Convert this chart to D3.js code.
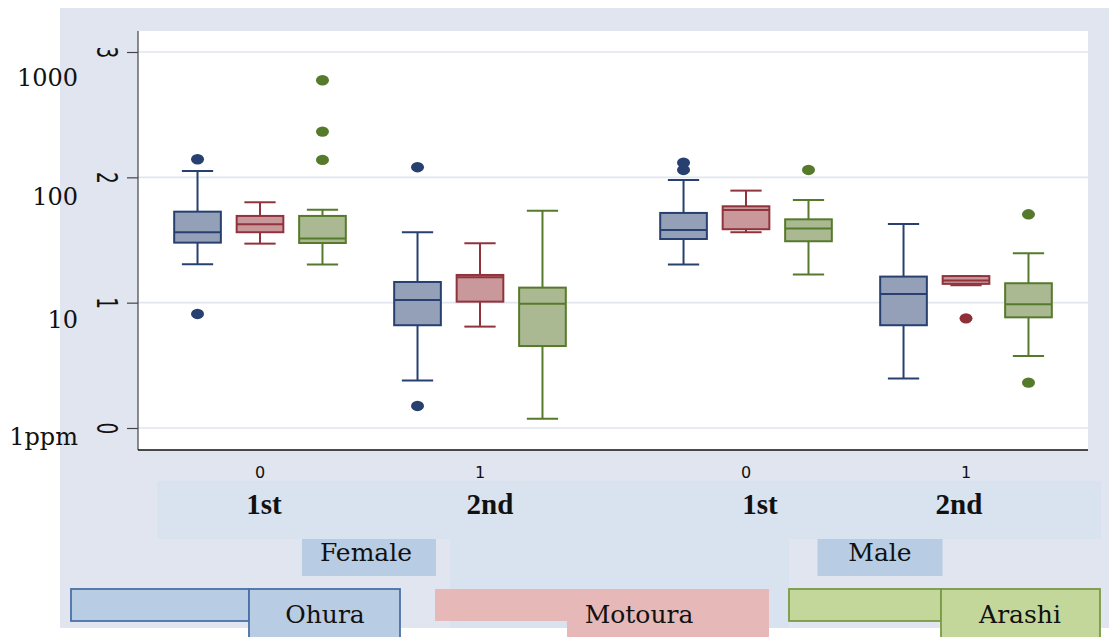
<!DOCTYPE html>
<html>
<head>
<meta charset="utf-8">
<script src="https://cdn.jsdelivr.net/npm/d3@7/dist/d3.min.js"></script>
<style>
  html, body { margin: 0; padding: 0; background: #ffffff; overflow: hidden; }
  svg { display: block; }
</style>
</head>
<body>
<script>
// Grouping levels
const sexes = ["Female", "Male"];
const waves = ["1st", "2nd"];
const waveCodes = ["0", "1"];
const sites = ["Ohura", "Motoura", "Arashi"];

// Log10 axis ticks and their ppm equivalents
const yTickValues = [0, 1, 2, 3];
const ppmLabels = ["1ppm", "10", "100", "1000"];

// Box summaries in log10(ppm): [lower whisker, Q1, median, Q3, upper whisker]
// cell order: Female 1st, Female 2nd, Male 1st, Male 2nd
const ohuraBoxes = [
  [1.306, 1.479, 1.562, 1.726, 2.051],
  [0.378, 0.820, 1.022, 1.165, 1.562],
  [1.304, 1.508, 1.580, 1.716, 1.979],
  [0.394, 0.820, 1.069, 1.208, 1.628]
];
const motouraBoxes = [
  [1.471, 1.562, 1.626, 1.692, 1.801],
  [0.809, 1.008, 1.203, 1.221, 1.474],
  [1.562, 1.586, 1.740, 1.769, 1.894],
  [1.139, 1.150, 1.176, 1.212, 1.212]
];
const arashiBoxes = [
  [1.304, 1.476, 1.511, 1.692, 1.742],
  [0.074, 0.654, 0.992, 1.120, 1.734],
  [1.224, 1.490, 1.591, 1.665, 1.820],
  [0.575, 0.883, 0.987, 1.155, 1.394]
];

// Outside values, same cell order
const ohuraOutliers = [[2.144, 0.910], [2.081, 0.176], [2.117, 2.059], []];
const motouraOutliers = [[], [], [], [0.875]];
const arashiOutliers = [[2.139, 2.365, 2.775], [], [2.059], [1.705, 0.362]];

// ---- styling ----
const siteStyle = {
  Ohura:   { fill: "#93a0b8", stroke: "#27406f", dot: "#27406f", key: "#b8cce4", keyStroke: "#4a70a6" },
  Motoura: { fill: "#c8989b", stroke: "#91333d", dot: "#8f2f3a", key: "#e6b8b7", keyStroke: "none" },
  Arashi:  { fill: "#abb993", stroke: "#567a2b", dot: "#567a2b", key: "#c4d79b", keyStroke: "#7a9a44" }
};
const serif = "'DejaVu Serif', serif";
const sans = "'DejaVu Sans', sans-serif";

const W = 1109, H = 637;
const plot = { left: 138, right: 1088, top: 31, bottom: 450 };

const svg = d3.select("body").append("svg").attr("width", W).attr("height", H);

// page backgrounds
svg.append("rect").attr("x", 60).attr("y", 8).attr("width", W - 60).attr("height", 620).attr("fill", "#e1e5ef");
svg.append("rect").attr("x", plot.left).attr("y", plot.top)
  .attr("width", plot.right - plot.left).attr("height", plot.bottom - plot.top).attr("fill", "#ffffff");

// scales
const y = d3.scaleLinear().domain([0, 3]).range([428, 52]);
const xSex = d3.scaleBand().domain(sexes).range([plot.left, plot.right])
  .paddingInner(0.0947).paddingOuter(0.0247);
const xWave = d3.scaleBand().domain(waves).range([0, xSex.bandwidth()]);
const xSite = d3.scaleBand().domain(sites).range([0, xWave.bandwidth()])
  .paddingInner(0.253).paddingOuter(0.387);

// gridlines
svg.append("g").selectAll("line").data(yTickValues).join("line")
  .attr("x1", plot.left).attr("x2", plot.right)
  .attr("y1", d => y(d)).attr("y2", d => y(d))
  .attr("stroke", "#e0e5ef").attr("stroke-width", 1.6);

// assemble box records
const boxSets = { Ohura: ohuraBoxes, Motoura: motouraBoxes, Arashi: arashiBoxes };
const outSets = { Ohura: ohuraOutliers, Motoura: motouraOutliers, Arashi: arashiOutliers };
const records = [];
sites.forEach(site => {
  boxSets[site].forEach((b, i) => {
    const sex = sexes[Math.floor(i / 2)], wave = waves[i % 2];
    records.push({ site, sex, wave, lw: b[0], q1: b[1], med: b[2], q3: b[3], uw: b[4], out: outSets[site][i] });
  });
});
const cx = d => xSex(d.sex) + xWave(d.wave) + xSite(d.site) + xSite.bandwidth() / 2;
const bw = xSite.bandwidth();
const capW = bw * 0.67;

const boxes = svg.append("g").selectAll("g").data(records).join("g");
boxes.each(function (d) {
  const g = d3.select(this), st = siteStyle[d.site], x = cx(d);
  // whiskers
  g.append("line").attr("x1", x).attr("x2", x).attr("y1", y(d.q3)).attr("y2", y(d.uw))
    .attr("stroke", st.stroke).attr("stroke-width", 2);
  g.append("line").attr("x1", x).attr("x2", x).attr("y1", y(d.q1)).attr("y2", y(d.lw))
    .attr("stroke", st.stroke).attr("stroke-width", 2);
  [d.uw, d.lw].forEach(v => g.append("line")
    .attr("x1", x - capW / 2).attr("x2", x + capW / 2).attr("y1", y(v)).attr("y2", y(v))
    .attr("stroke", st.stroke).attr("stroke-width", 2));
  // box
  g.append("rect").attr("x", x - bw / 2).attr("width", bw)
    .attr("y", y(d.q3)).attr("height", y(d.q1) - y(d.q3))
    .attr("fill", st.fill).attr("stroke", st.stroke).attr("stroke-width", 2);
  g.append("line").attr("x1", x - bw / 2).attr("x2", x + bw / 2).attr("y1", y(d.med)).attr("y2", y(d.med))
    .attr("stroke", st.stroke).attr("stroke-width", 2);
  // outside values
  g.selectAll("ellipse").data(d.out).join("ellipse")
    .attr("cx", x).attr("cy", v => y(v)).attr("rx", 6.5).attr("ry", 5.2).attr("fill", st.dot);
});

// y axis
const yAxis = svg.append("g").attr("transform", `translate(${plot.left},0)`)
  .call(d3.axisLeft(y).tickValues(yTickValues).tickSize(11).tickPadding(4).tickFormat(d3.format("d")));
yAxis.select(".domain").remove();
yAxis.selectAll(".tick line").attr("stroke", "#444").attr("stroke-width", 1.2);
yAxis.selectAll(".tick text").remove();
yAxis.selectAll(".tick").append("text")
  .attr("transform", "translate(-31,0) rotate(90) scale(1,1.55)")
  .attr("text-anchor", "middle").attr("dy", "0.36em")
  .attr("fill", "#111").style("font-family", sans).style("font-size", "18.5px")
  .text(d => d3.format("d")(d));
svg.append("line").attr("x1", plot.left).attr("x2", plot.left).attr("y1", plot.top).attr("y2", plot.bottom)
  .attr("stroke", "#444").attr("stroke-width", 1.2);

// ppm equivalents beside the log ticks
const ppmShift = [17, 25, 28, 34];
svg.append("g").selectAll("text").data(yTickValues).join("text")
  .attr("x", 78).attr("y", (d, i) => y(d) + ppmShift[i])
  .attr("text-anchor", "end").attr("fill", "#111")
  .style("font-family", serif).style("font-size", "24px")
  .text((d, i) => ppmLabels[i]);

// x axis line
svg.append("line").attr("x1", plot.left).attr("x2", plot.right).attr("y1", plot.bottom).attr("y2", plot.bottom)
  .attr("stroke", "#111").attr("stroke-width", 1.5);

// wave codes under each group
const cells = [];
sexes.forEach(s => waves.forEach((w, j) => cells.push({ sex: s, wave: w, code: waveCodes[j] })));
const groupCx = c => xSex(c.sex) + xWave(c.wave) + xWave.bandwidth() / 2;
svg.append("g").selectAll("text").data(cells).join("text")
  .attr("x", c => groupCx(c)).attr("y", 478).attr("text-anchor", "middle").attr("fill", "#111")
  .style("font-family", sans).style("font-size", "16px").text(c => c.code);

// sex labels (partly tucked under the wave band)
sexes.forEach(s => {
  const c = xSex(s) + xSex.bandwidth() / 2 + (s === "Female" ? -1 : 24);
  const w = s === "Female" ? 134 : 125;
  svg.append("rect").attr("x", c - w / 2).attr("y", 539).attr("width", w).attr("height", 37).attr("fill", "#b8cce4");
  svg.append("text").attr("x", c - (s === "Female" ? 3 : 0)).attr("y", 561).attr("text-anchor", "middle").attr("fill", "#111")
    .style("font-family", serif).style("font-size", "25px").text(s);
});

// wave band
svg.append("rect").attr("x", 157).attr("y", 481).attr("width", 944).attr("height", 58).attr("fill", "#d9e2ef");
svg.append("rect").attr("x", 450).attr("y", 539).attr("width", 339).attr("height", 89).attr("fill", "#d9e2ef");
const waveShift = [4, 10, 14, -7];
svg.append("g").selectAll("text").data(cells).join("text")
  .attr("x", (c, i) => groupCx(c) + waveShift[i]).attr("y", 514).attr("text-anchor", "middle").attr("fill", "#111")
  .style("font-family", "'Liberation Serif', serif").style("font-weight", "bold").style("font-size", "29px")
  .text(c => c.wave);

// legend
const legendSpans = [
  { key: [71, 249], label: [249, 400], textX: 325 },
  { key: [435, 567], label: [567, 769], textX: 639 },
  { key: [789, 941], label: [941, 1100], textX: 1020 }
];
sites.forEach((s, i) => {
  const st = siteStyle[s], sp = legendSpans[i];
  const sw = st.keyStroke === "none" ? 0 : 1.8;
  svg.append("rect").attr("x", sp.key[0]).attr("y", 589).attr("width", sp.key[1] - sp.key[0]).attr("height", 32)
    .attr("fill", st.key).attr("stroke", st.keyStroke).attr("stroke-width", sw);
  svg.append("rect").attr("x", sp.label[0]).attr("y", 589).attr("width", sp.label[1] - sp.label[0]).attr("height", 60)
    .attr("fill", st.key).attr("stroke", st.keyStroke).attr("stroke-width", sw);
  svg.append("text").attr("x", sp.textX).attr("y", 623).attr("text-anchor", "middle")
    .attr("fill", "#111").style("font-family", serif).style("font-size", "25px").text(s);
});
</script>
</body>
</html>
